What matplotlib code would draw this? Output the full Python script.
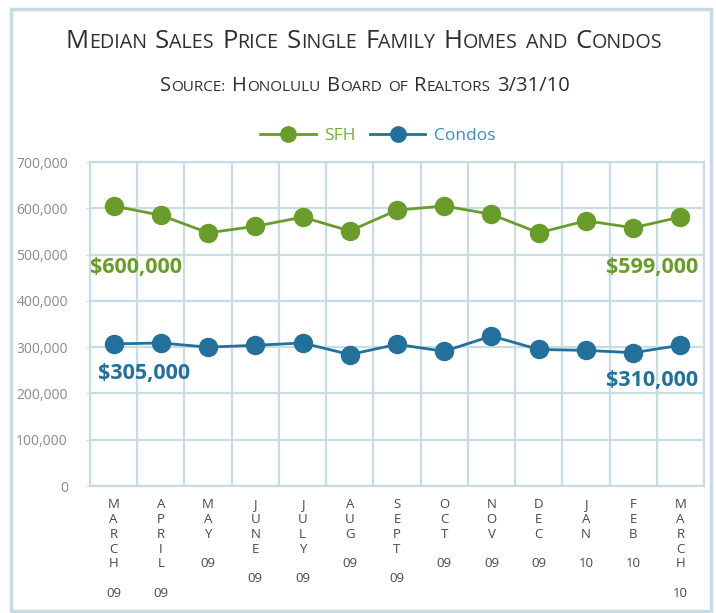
import matplotlib.pyplot as plt
from matplotlib.patches import Rectangle
from matplotlib.ticker import FuncFormatter
import numpy as np

plt.rcParams['font.family'] = ['Open Sans', 'DejaVu Sans']

# data
months = ['MARCH', 'APRIL', 'MAY', 'JUNE', 'JULY', 'AUG', 'SEPT',
          'OCT', 'NOV', 'DEC', 'JAN', 'FEB', 'MARCH']
years = ['09', '09', '09', '09', '09', '09', '09',
         '09', '09', '09', '10', '10', '10']
sfh = [605000, 585000, 547000, 561000, 581000, 551000, 596000,
       605000, 587000, 547000, 573000, 558000, 581000]
condos = [307000, 309000, 300000, 304000, 309000, 284000, 306000,
          291000, 324000, 295000, 293000, 288000, 304000]
yticks = [0, 100000, 200000, 300000, 400000, 500000, 600000, 700000]

green = '#6a9c2c'
blue = '#23709a'
grid_c = '#c8dce4'

W, H = 716, 613
fig = plt.figure(figsize=(W / 100, H / 100), dpi=100)
ax = fig.add_axes([90 / W, 1 - 486 / H, (704 - 90) / W, (486 - 162) / H])

x = np.arange(len(months))
ax.plot(x, sfh, color=green, lw=2, marker='o', ms=13, label='SFH', zorder=3)
ax.plot(x, condos, color=blue, lw=2, marker='o', ms=13, label='Condos', zorder=3)

ax.set_xlim(-0.5, len(months) - 0.5)
ax.set_ylim(0, 700000)
ax.set_yticks(yticks)
ax.yaxis.set_major_formatter(FuncFormatter(lambda v, p: f'{int(v):,}'))
ax.set_xticks(x)
ax.set_xticklabels(['\n'.join(m) + '\n\n' + y for m, y in zip(months, years)],
                   va='top', linespacing=1.17)
ax.set_xticks(np.arange(-0.5, len(months)), minor=True)
ax.tick_params(axis='x', which='both', length=0, pad=9, labelsize=9.5, labelcolor='#484848')
ax.tick_params(axis='y', length=3, color=grid_c, pad=13, labelsize=10, labelcolor='#8a8a8a')
ax.grid(True, axis='y', which='major', color=grid_c, lw=1.6)
ax.grid(True, axis='x', which='minor', color=grid_c, lw=1.6)
ax.set_axisbelow(True)
for s in ax.spines.values():
    s.set_color(grid_c)
    s.set_linewidth(1.6)

# value call-outs
ax.text(-0.5, 473000, '$600,000', color=green, fontsize=15.5, fontweight='bold', ha='left', va='center')
ax.text(12.37, 473000, '$599,000', color=green, fontsize=15.5, fontweight='bold', ha='right', va='center')
ax.text(-0.33, 244000, '$305,000', color=blue, fontsize=15.5, fontweight='bold', ha='left', va='center')
ax.text(12.37, 229000, '$310,000', color=blue, fontsize=15.5, fontweight='bold', ha='right', va='center')

leg = ax.legend(loc='center', bbox_to_anchor=(378 / W, 1 - 136 / H), bbox_transform=fig.transFigure,
                ncol=2, frameon=False, fontsize=12.5, handlelength=3.2, handletextpad=0.5,
                columnspacing=0.8, markerscale=0.85)
for t, c in zip(leg.get_texts(), ['#78aa3a', '#3f8ab3']):
    t.set_color(c)


def small_caps(text, xc, base, big, small, color):
    # fake small caps: capitals and digits at full size, the rest upper-cased smaller
    r = fig.canvas.get_renderer()
    runs = []
    for word in text.split(' '):
        cur, cur_big = '', None
        for ch in word:
            b = ch.isupper() or ch.isdigit() or ch == '/'
            if cur and b != cur_big:
                runs.append((cur, cur_big, False))
                cur = ''
            cur += ch.upper()
            cur_big = b
        runs.append((cur, cur_big, True))
    items, total = [], 0
    space = big * 0.32 * 100 / 72
    for s, b, end in runs:
        t = fig.text(0, base, s, fontsize=big if b else small, color=color, va='baseline', ha='left')
        w = t.get_window_extent(r).width
        items.append((t, w, end))
        total += w + (space if end else 0)
    total -= space
    px = xc * W - total / 2
    for t, w, end in items:
        t.set_x(px / W)
        px += w + (space if end else 0)


small_caps('Median Sales Price Single Family Homes and Condos', 364 / W, 1 - 48 / H, 18.5, 14.2, '#2e2e2e')
small_caps('Source: Honolulu Board of Realtors 3/31/10', 365 / W, 1 - 91 / H, 14.5, 11, '#2e2e2e')

fig.patches.append(Rectangle((11 / W, 1 - 611 / H), 700 / W, 602 / H, transform=fig.transFigure,
                             fill=False, edgecolor='#c6dbe4', lw=2.5))

fig.savefig('out.png', dpi=100)
